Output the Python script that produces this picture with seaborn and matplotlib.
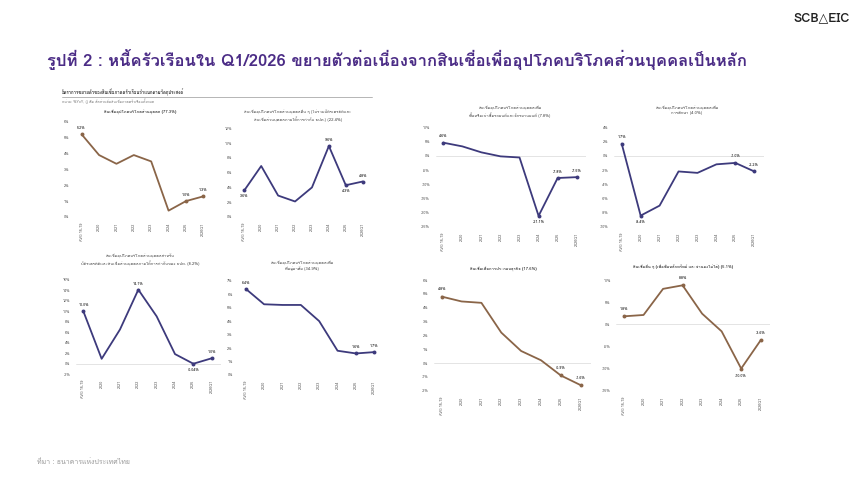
import matplotlib
matplotlib.use("Agg")
import matplotlib.pyplot as plt
import seaborn as sns
from matplotlib import font_manager
from matplotlib.ft2font import FT2Font

# === ข้อมูล (%YoY) ===
periods = ["AVG 15-19", "2020", "2021", "2022", "2023", "2024", "2025", "2026Q1"]

personal_total = [5.2, 3.9, 3.35, 3.9, 3.5, 0.4, 1.0, 1.3]
other_personal = [3.6, 6.9, 2.9, 2.1, 4.0, 9.6, 4.3, 4.8]
card_personal = [10.0, 0.9, 6.5, 14.1, 9.0, 1.8, -0.04, 1.0]
housing = [6.4, 5.25, 5.2, 5.2, 4.0, 1.8, 1.6, 1.7]
auto = [4.6, 3.3, 1.2, -0.2, -0.6, -21.1, -7.8, -7.5]
education = [1.7, -8.4, -7.0, -2.2, -2.4, -1.2, -1.0, -2.2]
business = [4.8, 4.45, 4.35, 2.2, 0.87, 0.2, -0.9, -1.6]
other_loans = [1.8, 2.1, 8.0, 8.8, 2.4, -1.6, -10.0, -3.6]

title_personal_total = "สินเชื่ออุปโภคบริโภคส่วนบุคคล (77.3%)"
title_other_personal = "สินเชื่ออุปโภคบริโภคส่วนบุคคลอื่น ๆ (ไม่รวมบัตรเครดิตและ\nสินเชื่อส่วนบุคคลภายใต้การกำกับ ธปท.) (22.4%)"
title_card_personal = "สินเชื่ออุปโภคบริโภคส่วนบุคคลสำหรับ\nบัตรเครดิตและสินเชื่อส่วนบุคคลภายใต้การกำกับของ ธปท. (8.2%)"
title_housing = "สินเชื่ออุปโภคบริโภคส่วนบุคคลเพื่อ\nที่อยู่อาศัย (34.9%)"
title_auto = "สินเชื่ออุปโภคบริโภคส่วนบุคคลเพื่อ\nซื้อหรือเช่าซื้อรถยนต์และจักรยานยนต์ (7.8%)"
title_education = "สินเชื่ออุปโภคบริโภคส่วนบุคคลเพื่อ\nการศึกษา (4.0%)"
title_business = "สินเชื่อเพื่อการประกอบธุรกิจ (17.6%)"
title_other_loans = "สินเชื่ออื่น ๆ (เพื่อซื้อหลักทรัพย์ และจำนองไม่ได้) (5.1%)"

# จุดที่มีป้ายตัวเลข: (index, ข้อความ, บน/ล่าง)
labels_personal_total = [(0, "5.2%", 1), (6, "1.0%", 1), (7, "1.3%", 1)]
labels_other_personal = [(0, "3.6%", -1), (5, "9.6%", 1), (6, "4.3%", -1), (7, "4.8%", 1)]
labels_card_personal = [(0, "10.0%", 1), (3, "14.1%", 1), (6, "-0.04%", -1), (7, "1.0%", 1)]
labels_housing = [(0, "6.4%", 1), (6, "1.6%", 1), (7, "1.7%", 1)]
labels_auto = [(0, "4.6%", 1), (5, "-21.1%", -1), (6, "-7.8%", 1), (7, "-7.5%", 1)]
labels_education = [(0, "1.7%", 1), (1, "-8.4%", -1), (6, "-1.0%", 1), (7, "-2.2%", 1)]
labels_business = [(0, "4.8%", 1), (6, "-0.9%", 1), (7, "-1.6%", 1)]
labels_other_loans = [(0, "1.8%", 1), (3, "8.8%", 1), (6, "-10.0%", -1), (7, "-3.6%", 1)]

# === ฟอนต์ ===
def find_thai_font():
    for f in font_manager.fontManager.ttflist:
        try:
            cm = FT2Font(f.fname).get_charmap()
        except Exception:
            continue
        if 0x0E01 in cm and 0x0E49 in cm:
            return f.name
    return None

sns.set_theme(style="white")
thai = find_thai_font()
families = ([thai] if thai else []) + ["DejaVu Sans"]
plt.rcParams["font.family"] = families
plt.rcParams["axes.unicode_minus"] = False

NAVY = "#3D3A7C"
BROWN = "#8A6548"
W, H = 860, 484

fig = plt.figure(figsize=(W / 100, H / 100), dpi=100)
fig.patch.set_facecolor("white")


def fx(x):
    return x / W


def fy(y):
    return 1 - y / H


def small_chart(vals, labels, color, x0, x7, ytop, ytop_px, ybot, ybot_px, ystep, title, tx, ty, bold=False):
    sp = (x7 - x0) / 7
    left, right = x0 - 0.4 * sp, x7 + 0.5 * sp
    ax = fig.add_axes([fx(left), fy(ybot_px), (right - left) / W, (ybot_px - ytop_px) / H])
    ax.set_facecolor("none")
    sns.lineplot(x=list(range(len(periods))), y=vals, ax=ax, color=color, lw=1.3, sort=False)
    idx = [i for i, _, _ in labels]
    sns.scatterplot(x=idx, y=[vals[i] for i in idx], ax=ax, color=color, s=8, linewidth=0, zorder=3)
    rng = ytop - ybot
    for i, txt, pos in labels:
        ax.text(i, vals[i] + pos * rng * 0.065, txt, ha="center", va="center", fontsize=2.7, color="#333333",
                fontweight="bold")
    ax.axhline(0, color="#d9d9d9", lw=0.5, zorder=0)
    ax.set_xlim(-0.4, 7.5)
    ax.set_ylim(ybot, ytop)
    ticks = []
    v = ybot
    while v <= ytop + 1e-9:
        ticks.append(v)
        v += ystep
    ax.set_yticks(ticks)
    ax.set_yticklabels([f"{t:g}%" for t in ticks], fontsize=2.7, color="#555555")
    ax.set_xticks(range(len(periods)))
    ax.set_xticklabels(periods, rotation=90, fontsize=2.7, color="#555555")
    ax.tick_params(length=0, pad=4)
    for s in ax.spines.values():
        s.set_visible(False)
    ax.set_xlabel("")
    ax.set_ylabel("")
    fig.text(fx(tx), fy(ty), title, ha="center", va="top", fontsize=3.0, color="#444444",
             fontweight="bold" if bold else "normal", linespacing=1.5)
    return ax


# === ฝั่งซ้าย (ภาพจากเอกสาร) ===
fig.text(fx(62), fy(92), "อัตราการขยายตัวของสินเชื่อภาคครัวเรือนจำแนกตามวัตถุประสงค์", fontsize=3.1,
         color="#333333", fontweight="bold", va="center")
fig.add_artist(plt.Line2D([fx(62), fx(372)], [fy(97), fy(97)], color="#aaaaaa", lw=0.6))
fig.text(fx(62), fy(101), "หน่วย: %YoY, () คือ สัดส่วนต่อสินเชื่อภาคครัวเรือนทั้งหมด", fontsize=2.6,
         color="#777777", va="center")

small_chart(personal_total, labels_personal_total, BROWN, 81.7, 203.3, 6, 121.7, 0, 217, 1,
            title_personal_total, 140, 109, bold=True)
small_chart(other_personal, labels_other_personal, NAVY, 244.3, 362.7, 12, 128.3, 0, 217, 2,
            title_other_personal, 298, 109)
small_chart(card_personal, labels_card_personal, NAVY, 83.3, 211.7, 16, 279.7, -2, 374, 2,
            title_card_personal, 140, 253)
small_chart(housing, labels_housing, NAVY, 245.7, 374.3, 7, 280.7, 0, 375, 1,
            title_housing, 302, 260)

# === ฝั่งขวา ===
small_chart(auto, labels_auto, NAVY, 443.3, 576.7, 10, 127.3, -25, 227, 5,
            title_auto, 510, 105)
small_chart(education, labels_education, NAVY, 621.7, 754.3, 4, 127.3, -10, 227, 2,
            title_education, 687, 105)
small_chart(business, labels_business, BROWN, 441.7, 580.7, 6, 280, -2, 390.7, 1,
            title_business, 503, 266, bold=True)
small_chart(other_loans, labels_other_loans, BROWN, 624, 760.7, 10, 280, -15, 390.7, 5,
            title_other_loans, 683, 264, bold=True)

# === หัวเรื่อง โลโก้ และที่มา ===
fig.text(fx(47), fy(59), "รูปที่ 2 : หนี้ครัวเรือนใน Q1/2026 ขยายตัวต่อเนื่องจากสินเชื่อเพื่ออุปโภคบริโภคส่วนบุคคลเป็นหลัก",
         fontsize=12, fontweight="bold", color="#4B2C86", va="center")
fig.text(fx(850), fy(18), "SCB△EIC", fontsize=9, fontweight="bold", color="#222222", ha="right", va="center")
fig.text(fx(37), fy(463), "ที่มา : ธนาคารแห่งประเทศไทย", fontsize=5, color="#999999", va="center")

fig.savefig("out.png", dpi=100, facecolor="white")
